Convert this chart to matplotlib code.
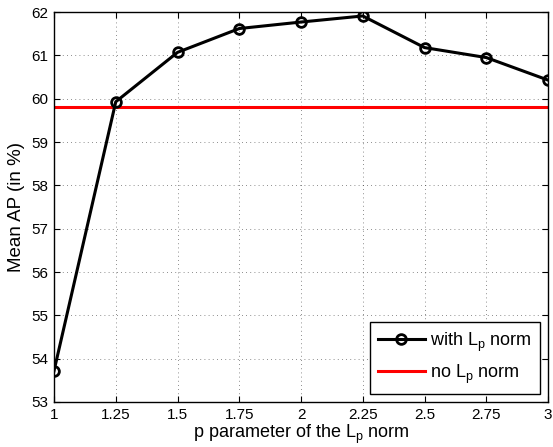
import numpy as np
import matplotlib
matplotlib.use('Agg')
import matplotlib.pyplot as plt

plt.rcParams['font.family'] = ['Liberation Sans', 'DejaVu Sans']
plt.rcParams['mathtext.fontset'] = 'custom'
plt.rcParams['mathtext.rm'] = 'Liberation Sans'
plt.rcParams['mathtext.it'] = 'Liberation Sans'

pValues = [1.0, 1.25, 1.5, 1.75, 2.0, 2.25, 2.5, 2.75, 3.0]
meanAP = [53.72, 59.93, 61.07, 61.62, 61.77, 61.91, 61.18, 60.95, 60.43]
baseAP = 59.8
xTicks = [1, 1.25, 1.5, 1.75, 2, 2.25, 2.5, 2.75, 3]
xTickLabels = ['1', '1.25', '1.5', '1.75', '2', '2.25', '2.5', '2.75', '3']
yTicks = np.arange(53, 63, 1)

fig = plt.figure(figsize=(5.53, 4.47), dpi=100)
ax = fig.add_axes([0.0977, 0.1007, 0.8933, 0.8723])

ax.plot(pValues, meanAP, 'k-', marker='o', markersize=7, markerfacecolor='none',
        markeredgewidth=2.0, linewidth=2.2, label=r'with L$_{\mathrm{p}}$ norm', zorder=3)
ax.plot([pValues[0], pValues[-1]], [baseAP, baseAP], color='r', linewidth=2.2,
        label=r'no L$_{\mathrm{p}}$ norm', zorder=2)

ax.set_xlim(1, 3)
ax.set_ylim(53, 62)
ax.set_xticks(xTicks)
ax.set_xticklabels(xTickLabels)
ax.set_yticks(yTicks)
ax.tick_params(direction='in', top=True, right=True, labelsize=11, length=4, pad=4)
ax.grid(True, linestyle=(0, (1, 4)), color='k', linewidth=0.6, alpha=0.6)
for sp in ax.spines.values():
    sp.set_linewidth(1.0)

ax.set_xlabel(r'p parameter of the L$_{\mathrm{p}}$ norm', fontsize=13)
ax.xaxis.set_label_coords(0.5, -0.054)
ax.set_ylabel('Mean AP (in %)', fontsize=13.5)
ax.yaxis.set_label_coords(-0.059, 0.5)

leg = ax.legend(loc='lower right', fontsize=13, fancybox=False, framealpha=1,
                edgecolor='k', borderaxespad=0.45, handlelength=2.6,
                handletextpad=0.3, borderpad=0.45, labelspacing=0.5)
leg.get_frame().set_linewidth(1.0)

fig.savefig('out.png', dpi=100)
